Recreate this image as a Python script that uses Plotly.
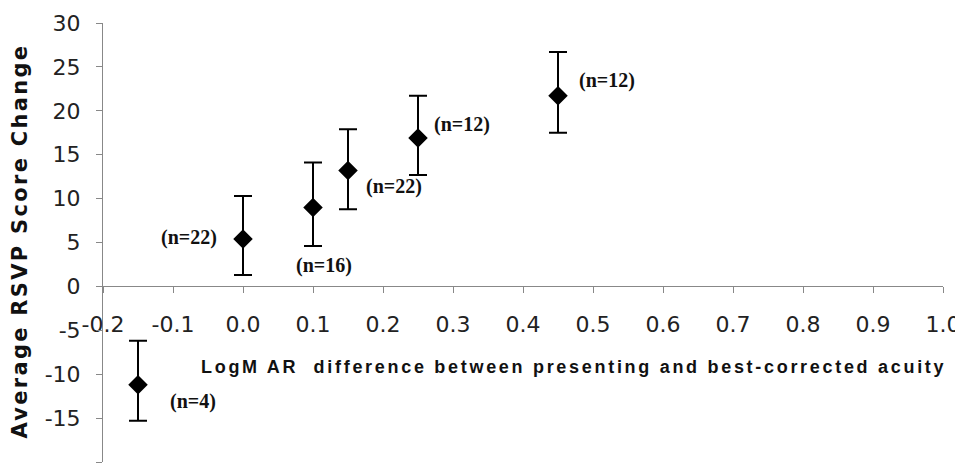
import plotly.graph_objects as go

# Data
logmar_diff = [-0.15, 0.0, 0.10, 0.15, 0.25, 0.45]
score_change = [-11.2, 5.4, 9.0, 13.2, 16.9, 21.7]
err_plus = [5.0, 4.9, 5.1, 4.7, 4.8, 5.0]
err_minus = [4.1, 4.1, 4.4, 4.4, 4.2, 4.2]
n_labels = ["(n=4)", "(n=22)", "(n=16)", "(n=22)", "(n=12)", "(n=12)"]

x_ticks = [-0.2, -0.1, 0.0, 0.1, 0.2, 0.3, 0.4, 0.5, 0.6, 0.7, 0.8, 0.9, 1.0]
x_tick_text = ["-0.2", "-0.1", "0.0", "0.1", "0.2", "0.3", "0.4", "0.5", "0.6", "0.7", "0.8", "0.9", "1.0"]
y_ticks = [-20, -15, -10, -5, 0, 5, 10, 15, 20, 25, 30]
y_tick_text = ["-20", "-15", "-10", "-5", "0", "5", "10", "15", "20", "25", "30"]

x_title = "LogM AR  difference between presenting and best-corrected acuity"
y_title = "Average RSVP Score Change"

# label offsets in pixels (style only)
label_shift = [(55, -17), (-54, 1), (11, -58), (46, -16), (44, 14), (49, 15)]

fig = go.Figure()
fig.add_trace(go.Scatter(
    x=logmar_diff, y=score_change, mode="markers",
    marker=dict(symbol="diamond", size=15, color="black"),
    error_y=dict(type="data", symmetric=False, array=err_plus, arrayminus=err_minus,
                 color="black", thickness=2, width=9),
    showlegend=False, hoverinfo="skip",
))

for xv, yv, txt, (dx, dy) in zip(logmar_diff, score_change, n_labels, label_shift):
    fig.add_annotation(x=xv, y=yv, text="<b>" + txt + "</b>", showarrow=False,
                       xshift=dx, yshift=dy, xanchor="center", yanchor="middle",
                       font=dict(family="Liberation Serif", size=20, color="#111"))

fig.add_annotation(xref="paper", yref="paper", x=0.560, y=0.217,
                   text='<span style="letter-spacing:2.7px">' + x_title + "</span>",
                   showarrow=False, xanchor="center", yanchor="middle",
                   font=dict(family="Liberation Sans", size=18, color="#111", weight="bold"))

fig.add_annotation(xref="paper", yref="paper", x=-0.099, y=0.504,
                   text='<span style="letter-spacing:2.3px">' + y_title + "</span>",
                   textangle=-90, showarrow=False,
                   xanchor="center", yanchor="middle",
                   font=dict(family="DejaVu Sans", size=21, color="#111", weight="bold"))

# page body has an 8px margin, so the figure is sized to fit the 963x470 window
fig.update_layout(
    width=955, height=462,
    margin=dict(l=95, r=20, t=15, b=8),
    plot_bgcolor="white", paper_bgcolor="white",
    xaxis=dict(range=[-0.2, 1.0], tickvals=x_ticks, ticktext=x_tick_text,
               showgrid=False, zeroline=False, showline=True, linecolor="#888", linewidth=1,
               ticks="outside", ticklen=6, tickcolor="#888", automargin=False,
               anchor="free", position=0.4, ticklabelstandoff=12,
               tickfont=dict(family="DejaVu Sans", size=22, color="#222")),
    yaxis=dict(range=[-20, 30], tickvals=y_ticks, ticktext=y_tick_text,
               showgrid=False, zeroline=False, showline=True, linecolor="#888", linewidth=1,
               ticks="outside", ticklen=6, tickcolor="#888", ticklabelstandoff=11,
               automargin=False,
               tickfont=dict(family="DejaVu Sans", size=22, color="#222")),
)

fig.write_html("out.html")
